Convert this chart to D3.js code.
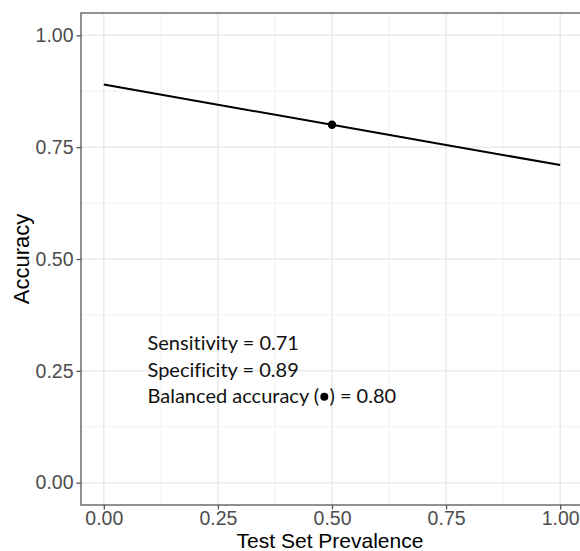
<!DOCTYPE html>
<html>
<head>
<meta charset="utf-8">
<script src="https://cdn.jsdelivr.net/npm/d3@7"></script>
<style>
  body { margin: 0; background: #fff; }
  svg { display: block; }
</style>
</head>
<body>
<svg id="chart" width="580" height="551"></svg>
<script>
// prevalence in the test set vs. resulting accuracy
const prevalence = [0, 0.25, 0.5, 0.75, 1];
const accuracy = [0.89, 0.845, 0.80, 0.755, 0.71];
const balancedPoint = [0.5, 0.80];
const tickValues = [0, 0.25, 0.5, 0.75, 1];
const minorValues = [0.125, 0.375, 0.625, 0.875];
const notes = ['Sensitivity = 0.71', 'Specificity = 0.89', 'Balanced accuracy (', ') = 0.80'];

const svg = d3.select('#chart');
const margin = { top: 13, right: -3, bottom: 46, left: 81 };
const W = 580, H = 551;
const pw = W - margin.left - margin.right;
const ph = H - margin.top - margin.bottom;

// ggplot style 5% expansion
const x = d3.scaleLinear().domain([-0.05, 1.05]).range([0, pw]);
const y = d3.scaleLinear().domain([-0.05, 1.05]).range([ph, 0]);

const g = svg.append('g').attr('transform', `translate(${margin.left},${margin.top})`);

// minor grid
g.append('g').selectAll('line.vminor').data(minorValues).join('line')
  .attr('x1', d => x(d)).attr('x2', d => x(d)).attr('y1', 0).attr('y2', ph)
  .attr('stroke', '#f2f2f2').attr('stroke-width', 1);
g.append('g').selectAll('line.hminor').data(minorValues).join('line')
  .attr('y1', d => y(d)).attr('y2', d => y(d)).attr('x1', 0).attr('x2', pw)
  .attr('stroke', '#f2f2f2').attr('stroke-width', 1);

// major grid
g.append('g').selectAll('line').data(tickValues).join('line')
  .attr('x1', d => x(d)).attr('x2', d => x(d)).attr('y1', 0).attr('y2', ph)
  .attr('stroke', '#ebebeb').attr('stroke-width', 1.5);
g.append('g').selectAll('line').data(tickValues).join('line')
  .attr('y1', d => y(d)).attr('y2', d => y(d)).attr('x1', 0).attr('x2', pw)
  .attr('stroke', '#ebebeb').attr('stroke-width', 1.5);

// accuracy line
const line = d3.line().x((d, i) => x(prevalence[i])).y(d => y(d));
g.append('path').datum(accuracy)
  .attr('d', line)
  .attr('fill', 'none')
  .attr('stroke', '#000')
  .attr('stroke-width', 2);

g.append('circle')
  .attr('cx', x(balancedPoint[0])).attr('cy', y(balancedPoint[1]))
  .attr('r', 4.2).attr('fill', '#000');

// annotation text
const note = g.append('text')
  .attr('font-family', 'Lato, "Open Sans", sans-serif')
  .attr('font-size', 20)
  .style('font-variant-ligatures', 'none')
  .attr('fill', '#111');
note.append('tspan').attr('x', 147.5 - margin.left).attr('y', 350 - margin.top).text(notes[0]);
note.append('tspan').attr('x', 147.5 - margin.left).attr('y', 376.7 - margin.top).text(notes[1]);
const third = note.append('tspan').attr('x', 147.5 - margin.left).attr('y', 403.3 - margin.top);
third.text(notes[2]);
const bullet = note.append('tspan').text('\u00a0\u00a0');
note.append('tspan').text(notes[3]);

// place the filled dot inside the parentheses
const bb = bullet.node();
const start = bb.getStartPositionOfChar(0);
const endPos = bb.getEndPositionOfChar(1);
g.append('circle')
  .attr('cx', (start.x + endPos.x) / 2)
  .attr('cy', 403.3 - margin.top - 6.5)
  .attr('r', 4).attr('fill', '#000');

// panel border
g.append('rect')
  .attr('width', pw).attr('height', ph)
  .attr('fill', 'none').attr('stroke', '#555').attr('stroke-width', 1.3);

// axes
const fmt = d3.format('.2f');
const xAxis = g.append('g').attr('transform', `translate(0,${ph})`)
  .call(d3.axisBottom(x).tickValues(tickValues).tickFormat(fmt).tickSize(4.5).tickPadding(2));
const yAxis = g.append('g')
  .call(d3.axisLeft(y).tickValues(tickValues).tickFormat(fmt).tickSize(4.5).tickPadding(3));
[xAxis, yAxis].forEach(a => {
  a.select('.domain').remove();
  a.selectAll('.tick line').attr('stroke', '#555').attr('stroke-width', 1.3);
  a.selectAll('.tick text')
    .attr('fill', '#4d4d4d')
    .attr('font-family', 'Arial, "Liberation Sans", sans-serif')
    .attr('font-size', 19.5);
});

// axis titles
svg.append('text')
  .attr('x', margin.left + pw / 2 - 2).attr('y', 548)
  .attr('text-anchor', 'middle')
  .attr('font-family', 'Arial, "Liberation Sans", sans-serif')
  .attr('font-size', 21).attr('fill', '#000')
  .text('Test Set Prevalence');
svg.append('text')
  .attr('transform', `translate(29,${margin.top + y(0.5)}) rotate(-90)`)
  .attr('text-anchor', 'middle')
  .attr('font-family', 'Arial, "Liberation Sans", sans-serif')
  .attr('font-size', 22).attr('fill', '#000')
  .text('Accuracy');
</script>
</body>
</html>
